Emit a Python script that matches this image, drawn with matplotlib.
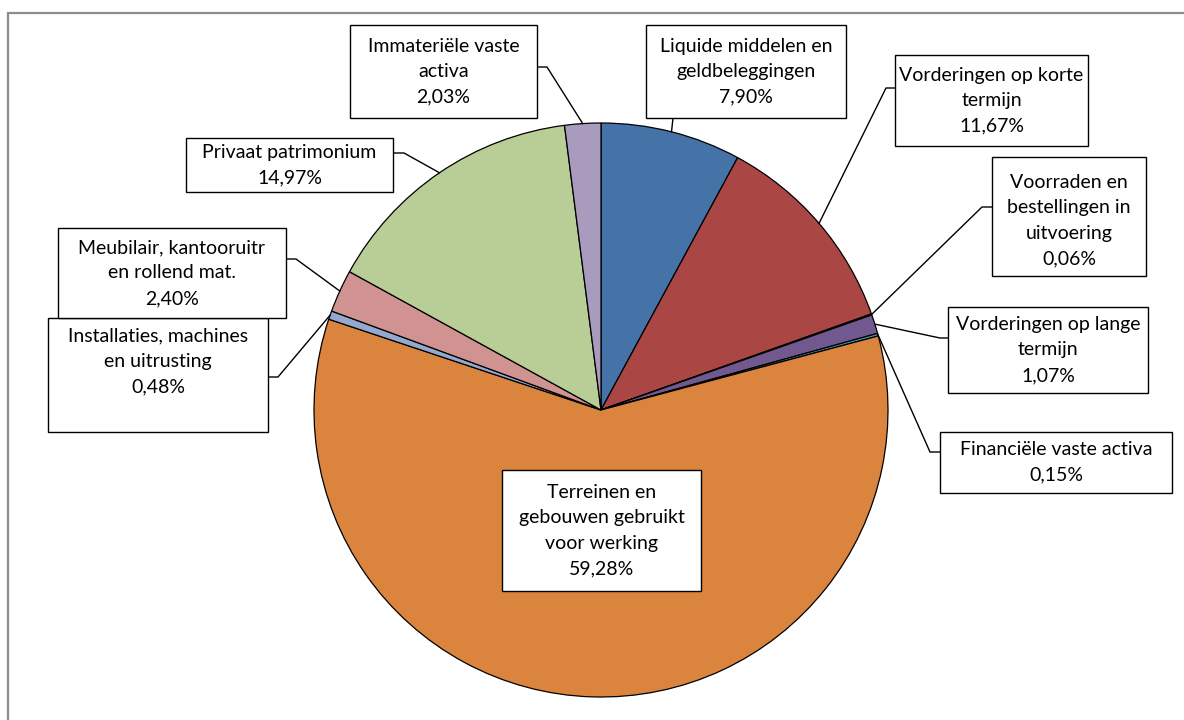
import matplotlib

matplotlib.use('Agg')
import numpy as np
import matplotlib.pyplot as plt
from matplotlib.patches import Rectangle

# slices, clockwise from 12 o'clock
labels = ['Liquide middelen en\ngeldbeleggingen',
          'Vorderingen op korte\ntermijn',
          'Voorraden en\nbestellingen in\nuitvoering',
          'Vorderingen op lange\ntermijn',
          'Financiële vaste activa',
          'Terreinen en\ngebouwen gebruikt\nvoor werking',
          'Installaties, machines\nen uitrusting',
          'Meubilair, kantooruitr\nen rollend mat.',
          'Privaat patrimonium',
          'Immateriële vaste\nactiva']
values = [7.90, 11.67, 0.06, 1.07, 0.15, 59.28, 0.48, 2.40, 14.97, 2.03]
colors = ['#4572A7', '#AA4643', '#89A54E', '#71588F', '#4198AF',
          '#DB843D', '#93A9CF', '#D19392', '#B9CD96', '#A99BBD']

H = 720
cx, cy, r = 601, 410, 287

# label boxes in pixel coords (x0, y0, x1, y1), line start, elbow, text y shift
boxes = [
    ((646, 25, 846, 118), (673, 118), None, 0),
    ((895, 55, 1088, 146), (895, 88), (886, 88), 0),
    ((992, 157, 1146, 276), (992, 207), (982, 207), 4),
    ((948, 307, 1148, 393), (948, 338), (940, 338), 0),
    ((940, 432, 1172, 493), (940, 452), (930, 452), 0),
    ((502, 470, 701, 591), None, None, 0),
    ((48, 318, 268, 432), (268, 377), (278, 377), -14),
    ((58, 228, 286, 318), (286, 259), (296, 259), 0),
    ((186, 138, 393, 192), (393, 153), (404, 153), 0),
    ((350, 25, 537, 118), (537, 67), (547, 67), 0),
]

plt.rcParams['font.family'] = ['Lato', 'DejaVu Sans']
fig = plt.figure(figsize=(11.84, 7.2), dpi=100)
ax = fig.add_axes([0, 0, 1, 1])

ax.pie(values, colors=colors, startangle=90, counterclock=False,
       center=(cx, H - cy), radius=r,
       wedgeprops=dict(edgecolor='black', linewidth=0.9))
ax.set_xlim(0, 1184)
ax.set_ylim(0, H)
ax.set_aspect('auto')
ax.axis('off')

# chart border (right/bottom fall outside the image)
ax.add_patch(Rectangle((8, H - 13 - 800), 1300, 800, fill=False,
                       edgecolor='#8c8c8c', linewidth=1.6, clip_on=False))

total = sum(values)
cum = np.cumsum([0] + values[:-1])
for i, (lab, v) in enumerate(zip(labels, values)):
    (x0, y0, x1, y1), start, elbow, dy = boxes[i]
    ax.add_patch(Rectangle((x0, H - y1), x1 - x0, y1 - y0, facecolor='white',
                           edgecolor='black', linewidth=1.0, zorder=5))
    txt = lab + '\n' + ('%.2f%%' % v).replace('.', ',')
    ax.text((x0 + x1) / 2, H - (y0 + y1) / 2 - dy, txt, ha='center', va='center',
            fontsize=14, linespacing=1.6, zorder=6)
    if start is not None:
        ang = np.radians((cum[i] + v / 2) / total * 360)
        px = cx + r * np.sin(ang)
        py = cy - r * np.cos(ang)
        pts = [start] + ([elbow] if elbow else []) + [(px, py)]
        ax.plot([p[0] for p in pts], [H - p[1] for p in pts], color='black',
                linewidth=1.0, zorder=4)

plt.savefig('out.png', dpi=100)
